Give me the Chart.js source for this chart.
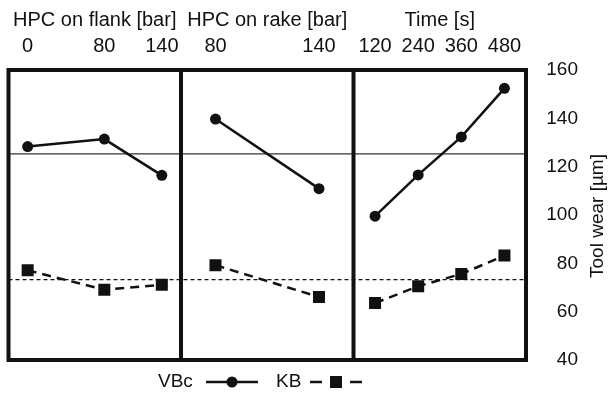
<!DOCTYPE html>
<html>
<head>
<meta charset="utf-8">
<script src="https://cdn.jsdelivr.net/npm/chart.js@4"></script>
<style>
  html, body { margin: 0; padding: 0; background: #fff; }
  #wrap { width: 612px; height: 397px; }
</style>
</head>
<body>
<div id="wrap"><canvas id="chart"></canvas></div>
<script>
// ===== DATA =====
const FACTORS = ['HPC on flank [bar]', 'HPC on rake [bar]', 'Time [s]'];
const flankLevels = [0, 80, 140];
const rakeLevels = [80, 140];
const timeLevels = [120, 240, 360, 480];

const flankVB = [128.3, 131.4, 116.4];
const rakeVB = [139.7, 110.9];
const timeVB = [99.5, 116.6, 132.3, 152.4];

const flankKB = [77.1, 69.1, 71.1];
const rakeKB = [79.2, 66.1];
const timeKB = [63.6, 70.5, 75.6, 83.2];

const meanVB = 125.3;
const meanKB = 73.3;

const yTicks = [40, 60, 80, 100, 120, 140, 160];

// level axis range inside each panel
const RANGES = [[-20, 160], [60, 160], [60, 540]];
const LEVELS = [flankLevels, rakeLevels, timeLevels];
const FONT = '"Liberation Sans", Arial, sans-serif';
const INK = '#111';

const px = (p, v) => p + (v - RANGES[p][0]) / (RANGES[p][1] - RANGES[p][0]);

function serie(groups) {
  const out = [];
  groups.forEach((arr, p) => {
    if (p > 0) out.push({ x: p, y: null });
    arr.forEach((y, i) => out.push({ x: px(p, LEVELS[p][i]), y }));
  });
  return out;
}

const topTicks = [];
LEVELS.forEach((lv, p) => lv.forEach(v => topTicks.push({ value: px(p, v), label: String(v) })));

// ===== DRAWING EXTRAS =====
const frame = {
  id: 'frame',
  afterDatasetsDraw(chart) {
    const { ctx, chartArea: a, scales } = chart;
    const x = scales.x;
    ctx.save();
    ctx.strokeStyle = INK;
    ctx.lineWidth = 4;
    ctx.strokeRect(a.left, a.top, a.right - a.left, a.bottom - a.top);
    [1, 2].forEach(v => {
      const xp = x.getPixelForValue(v);
      ctx.beginPath();
      ctx.moveTo(xp, a.top);
      ctx.lineTo(xp, a.bottom);
      ctx.stroke();
    });

    // panel titles
    ctx.fillStyle = INK;
    ctx.font = '20px ' + FONT;
    ctx.textAlign = 'center';
    ctx.textBaseline = 'middle';
    FACTORS.forEach((t, p) => ctx.fillText(t, x.getPixelForValue(p + 0.5), 20));

    // y title
    ctx.save();
    ctx.font = '19px ' + FONT;
    ctx.translate(598, (a.top + a.bottom) / 2 + 1);
    ctx.rotate(-Math.PI / 2);
    ctx.fillText('Tool wear [µm]', 0, 0);
    ctx.restore();

    // legend
    const ly = 382;
    ctx.font = '19px ' + FONT;
    ctx.textAlign = 'left';
    ctx.fillText('VBc', 158, ly);
    ctx.lineWidth = 2.5;
    ctx.beginPath();
    ctx.moveTo(206, ly); ctx.lineTo(258, ly);
    ctx.stroke();
    ctx.beginPath();
    ctx.arc(232, ly, 5.5, 0, Math.PI * 2);
    ctx.fill();

    ctx.fillText('KB', 276, ly);
    ctx.setLineDash([12, 28]);
    ctx.beginPath();
    ctx.moveTo(310, ly); ctx.lineTo(362, ly);
    ctx.stroke();
    ctx.setLineDash([]);
    ctx.fillRect(330, ly - 6, 12, 12);
    ctx.restore();
  }
};

new Chart(document.getElementById('chart'), {
  type: 'line',
  data: {
    datasets: [
      {
        label: 'VBc',
        data: serie([flankVB, rakeVB, timeVB]),
        borderColor: INK, backgroundColor: INK,
        borderWidth: 2.5,
        pointStyle: 'circle', pointRadius: 5.5,
        pointBackgroundColor: INK, pointBorderWidth: 0,
        spanGaps: false
      },
      {
        label: 'KB',
        data: serie([flankKB, rakeKB, timeKB]),
        borderColor: INK, backgroundColor: INK,
        borderWidth: 2.5, borderDash: [9, 6],
        pointStyle: 'rect', pointRadius: 8.5,
        pointBackgroundColor: INK, pointBorderWidth: 0,
        spanGaps: false
      },
      {
        label: 'mean VBc',
        data: [{ x: 0, y: meanVB }, { x: 3, y: meanVB }],
        borderColor: '#333', borderWidth: 1.3, pointRadius: 0
      },
      {
        label: 'mean KB',
        data: [{ x: 0, y: meanKB }, { x: 3, y: meanKB }],
        borderColor: INK, borderWidth: 1.3, borderDash: [4, 3], pointRadius: 0
      }
    ]
  },
  options: {
    responsive: true,
    maintainAspectRatio: false,
    animation: false,
    layout: { padding: { top: 0, left: 8, right: 34, bottom: 37 } },
    plugins: { legend: { display: false }, tooltip: { enabled: false } },
    scales: {
      x: { type: 'linear', min: 0, max: 3, display: false },
      x2: {
        type: 'linear', position: 'top', min: 0, max: 3,
        grid: { display: false, drawTicks: false },
        border: { display: false },
        afterBuildTicks: s => { s.ticks = topTicks.map(t => ({ value: t.value })); },
        afterFit: s => { s.height = 70; },
        ticks: {
          autoSkip: false, maxRotation: 0, padding: 12,
          color: INK, font: { size: 20, family: FONT },
          callback: (v, i) => topTicks[i].label
        }
      },
      y: {
        position: 'right', min: 40, max: 160,
        afterBuildTicks: s => { s.ticks = yTicks.map(v => ({ value: v })); },
        afterFit: s => { s.width = 52; },
        grid: { display: false, drawTicks: false },
        border: { display: false },
        ticks: {
          padding: 20, crossAlign: 'far',
          color: INK, font: { size: 19, family: FONT }
        }
      }
    }
  },
  plugins: [frame]
});
</script>
</body>
</html>
